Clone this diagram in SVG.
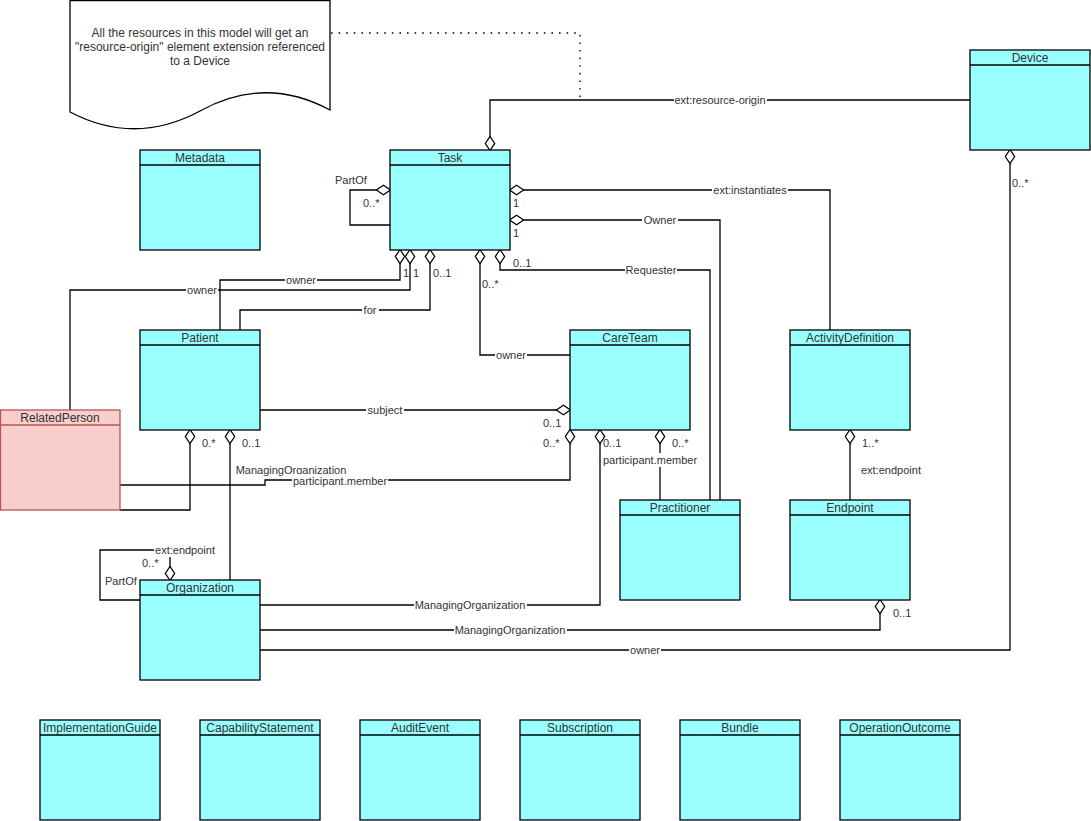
<svg xmlns="http://www.w3.org/2000/svg" width="1091" height="821" viewBox="0 0 1091 821">
<style>
.box{fill:#99ffff;stroke:#000;stroke-width:1.3}
.rp{fill:#f8cecc;stroke:#b85450;stroke-width:1.3}
.hd{stroke:#000;stroke-width:1.3}
.hdr{stroke:#b85450;stroke-width:1.3}
.t{font-family:"Liberation Sans",Arial,sans-serif;font-size:12px;fill:#333;text-anchor:middle}
.c{fill:none;stroke:#000;stroke-width:1.3}
.l{font-family:"Liberation Sans",Arial,sans-serif;font-size:11px;fill:#333}
.m{text-anchor:middle}
.bg{fill:#fff}
</style>
<defs>
<marker id="dia" markerUnits="userSpaceOnUse" markerWidth="16" markerHeight="12" refX="0.5" refY="5" orient="auto" viewBox="-1 -1 17 12">
<path d="M0,5 L7.5,0 L15,5 L7.5,10 Z" fill="#fff" stroke="#000" stroke-width="1.3"/>
</marker>
</defs>

<g id="note">
<path d="M70,0.5 H330 V110 Q265,75 200,111 Q135,146 70,112 Z" fill="#fff" stroke="#000" stroke-width="1.3"/>
<text class="t" x="200" y="37">All the resources in this model will get an</text>
<text class="t" x="200" y="51">"resource-origin" element extension referenced</text>
<text class="t" x="200" y="65">to a Device</text>
</g>

<g id="connectors">
<path class="c" d="M331,33 H580 V100" stroke-dasharray="1.6 6" stroke-width="1.8"/>
<path class="c" d="M490,150 V100 H970" marker-start="url(#dia)"/>
<path class="c" d="M390,190 H350 V225 H390" marker-start="url(#dia)"/>
<path class="c" d="M510,190 H830 V330" marker-start="url(#dia)"/>
<path class="c" d="M510,220 H720 V500" marker-start="url(#dia)"/>
<path class="c" d="M500,250 V270 H710 V500" marker-start="url(#dia)"/>
<path class="c" d="M480,250 V355 H570" marker-start="url(#dia)"/>
<path class="c" d="M400,250 V280 H220 V330" marker-start="url(#dia)"/>
<path class="c" d="M410,250 V290 H70 V410" marker-start="url(#dia)"/>
<path class="c" d="M430,250 V310 H240 V330" marker-start="url(#dia)"/>
<path class="c" d="M570,410 H260" marker-start="url(#dia)"/>
<path class="c" d="M190,430 V510 H120" marker-start="url(#dia)"/>
<path class="c" d="M230,430 V580" marker-start="url(#dia)"/>
<path class="c" d="M570,430 V480 H265 V485 H120" marker-start="url(#dia)"/>
<path class="c" d="M660,430 V500" marker-start="url(#dia)"/>
<path class="c" d="M600,430 V605 H260" marker-start="url(#dia)"/>
<path class="c" d="M850,430 V500" marker-start="url(#dia)"/>
<path class="c" d="M880,600 V630 H260" marker-start="url(#dia)"/>
<path class="c" d="M1010,150 V650 H260" marker-start="url(#dia)"/>
<path class="c" d="M170,580 V550 H100 V600 H140" marker-start="url(#dia)"/>

<text class="l m" x="291" y="474">ManagingOrganization</text>

<rect class="bg" x="674" y="93" width="93" height="14"/><text class="l m" x="720" y="104">ext:resource-origin</text>
<rect class="bg" x="712" y="183" width="76" height="14"/><text class="l m" x="750" y="194">ext:instantiates</text>
<rect class="bg" x="642" y="213" width="36" height="14"/><text class="l m" x="660" y="224">Owner</text>
<rect class="bg" x="625" y="263" width="52" height="14"/><text class="l m" x="651" y="274">Requester</text>
<rect class="bg" x="285" y="273" width="32" height="14"/><text class="l m" x="301" y="284">owner</text>
<rect class="bg" x="186" y="283" width="32" height="14"/><text class="l m" x="202" y="294">owner</text>
<rect class="bg" x="362" y="303" width="17" height="14"/><text class="l m" x="370" y="314">for</text>
<rect class="bg" x="495" y="348" width="32" height="14"/><text class="l m" x="511" y="359">owner</text>
<rect class="bg" x="366" y="403" width="38" height="14"/><text class="l m" x="385" y="414">subject</text>
<rect class="bg" x="292" y="474" width="96" height="14"/><text class="l m" x="340" y="485">participant.member</text>
<rect class="bg" x="602" y="453" width="96" height="14"/><text class="l m" x="650" y="464">participant.member</text>
<rect class="bg" x="414" y="598" width="113" height="14"/><text class="l m" x="470" y="609">ManagingOrganization</text>
<rect class="bg" x="454" y="623" width="113" height="14"/><text class="l m" x="510" y="634">ManagingOrganization</text>
<rect class="bg" x="629" y="643" width="32" height="14"/><text class="l m" x="645" y="654">owner</text>
<rect class="bg" x="154" y="543" width="62" height="14"/><text class="l m" x="185" y="554">ext:endpoint</text>

<text class="l" x="335" y="184">PartOf</text>
<text class="l" x="363" y="207">0..*</text>
<text class="l" x="513" y="207">1</text>
<text class="l" x="513" y="237">1</text>
<text class="l" x="513" y="267">0..1</text>
<text class="l" x="403" y="277">1</text>
<text class="l" x="413" y="277">1</text>
<text class="l" x="433" y="277">0..1</text>
<text class="l" x="482" y="288">0..*</text>
<text class="l" x="543" y="427">0..1</text>
<text class="l" x="543" y="447">0..*</text>
<text class="l" x="603" y="447">0..1</text>
<text class="l" x="672" y="447">0..*</text>
<text class="l" x="202" y="447">0.*</text>
<text class="l" x="242" y="447">0..1</text>
<text class="l" x="862" y="447">1..*</text>
<text class="l" x="861" y="474">ext:endpoint</text>
<text class="l" x="893" y="617">0..1</text>
<text class="l" x="1012" y="187">0..*</text>
<text class="l" x="142" y="567">0..*</text>
<text class="l" x="105" y="585">PartOf</text>
</g>

<g id="Metadata"><rect class="box" x="140" y="150" width="120" height="100"/><line class="hd" x1="140" y1="165" x2="260" y2="165"/><text class="t" x="200" y="162">Metadata</text></g>
<g id="Task"><rect class="box" x="390" y="150" width="120" height="100"/><line class="hd" x1="390" y1="165" x2="510" y2="165"/><text class="t" x="450" y="162">Task</text></g>
<g id="Device"><rect class="box" x="970" y="50" width="120" height="100"/><line class="hd" x1="970" y1="65" x2="1090" y2="65"/><text class="t" x="1030" y="62">Device</text></g>
<g id="Patient"><rect class="box" x="140" y="330" width="120" height="100"/><line class="hd" x1="140" y1="345" x2="260" y2="345"/><text class="t" x="200" y="342">Patient</text></g>
<g id="RelatedPerson"><rect class="rp" x="0.5" y="410" width="119.5" height="100"/><line class="hdr" x1="0.5" y1="425" x2="120" y2="425"/><text class="t" x="60" y="422">RelatedPerson</text></g>
<g id="CareTeam"><rect class="box" x="570" y="330" width="120" height="100"/><line class="hd" x1="570" y1="345" x2="690" y2="345"/><text class="t" x="630" y="342">CareTeam</text></g>
<g id="ActivityDefinition"><rect class="box" x="790" y="330" width="120" height="100"/><line class="hd" x1="790" y1="345" x2="910" y2="345"/><text class="t" x="850" y="342">ActivityDefinition</text></g>
<g id="Practitioner"><rect class="box" x="620" y="500" width="120" height="100"/><line class="hd" x1="620" y1="515" x2="740" y2="515"/><text class="t" x="680" y="512">Practitioner</text></g>
<g id="Endpoint"><rect class="box" x="790" y="500" width="120" height="100"/><line class="hd" x1="790" y1="515" x2="910" y2="515"/><text class="t" x="850" y="512">Endpoint</text></g>
<g id="Organization"><rect class="box" x="140" y="580" width="120" height="100"/><line class="hd" x1="140" y1="595" x2="260" y2="595"/><text class="t" x="200" y="592">Organization</text></g>
<g id="ImplementationGuide"><rect class="box" x="40" y="720" width="120" height="100"/><line class="hd" x1="40" y1="735" x2="160" y2="735"/><text class="t" x="100" y="732">ImplementationGuide</text></g>
<g id="CapabilityStatement"><rect class="box" x="200" y="720" width="120" height="100"/><line class="hd" x1="200" y1="735" x2="320" y2="735"/><text class="t" x="260" y="732">CapabilityStatement</text></g>
<g id="AuditEvent"><rect class="box" x="360" y="720" width="120" height="100"/><line class="hd" x1="360" y1="735" x2="480" y2="735"/><text class="t" x="420" y="732">AuditEvent</text></g>
<g id="Subscription"><rect class="box" x="520" y="720" width="120" height="100"/><line class="hd" x1="520" y1="735" x2="640" y2="735"/><text class="t" x="580" y="732">Subscription</text></g>
<g id="Bundle"><rect class="box" x="680" y="720" width="120" height="100"/><line class="hd" x1="680" y1="735" x2="800" y2="735"/><text class="t" x="740" y="732">Bundle</text></g>
<g id="OperationOutcome"><rect class="box" x="840" y="720" width="120" height="100"/><line class="hd" x1="840" y1="735" x2="960" y2="735"/><text class="t" x="900" y="732">OperationOutcome</text></g>
</svg>
